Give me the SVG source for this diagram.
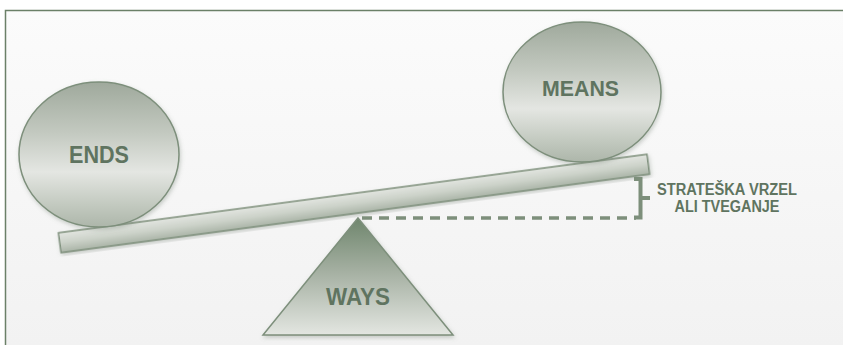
<svg xmlns="http://www.w3.org/2000/svg" width="843" height="345" viewBox="0 0 843 345">
  <defs>
    <linearGradient id="bg" x1="0" y1="0" x2="0" y2="1">
      <stop offset="0" stop-color="#fbfbfb"/>
      <stop offset="1" stop-color="#f2f2f2"/>
    </linearGradient>
    <linearGradient id="ball" x1="0" y1="0" x2="0" y2="1">
      <stop offset="0" stop-color="#9fa99c"/>
      <stop offset="0.35" stop-color="#c3c9c0"/>
      <stop offset="0.62" stop-color="#e4e6e2"/>
      <stop offset="0.85" stop-color="#c2c9bf"/>
      <stop offset="1" stop-color="#adb6aa"/>
    </linearGradient>
    <linearGradient id="tri" x1="0" y1="0" x2="0" y2="1">
      <stop offset="0" stop-color="#6f866d"/>
      <stop offset="0.45" stop-color="#a4afa1"/>
      <stop offset="1" stop-color="#e3e6e1"/>
    </linearGradient>
    <linearGradient id="beam" x1="0" y1="0" x2="0" y2="1">
      <stop offset="0" stop-color="#e2e5e0"/>
      <stop offset="0.5" stop-color="#ccd2c9"/>
      <stop offset="1" stop-color="#aab4a7"/>
    </linearGradient>
    <filter id="sh" x="-20%" y="-20%" width="140%" height="140%">
      <feDropShadow dx="1" dy="2" stdDeviation="2" flood-color="#6b7a69" flood-opacity="0.35"/>
    </filter>
    <style>
      .shape { stroke: #7d8f7b; stroke-width: 1.5; filter: url(#sh); }
      .lbl { font-family: "Liberation Sans", Arial, sans-serif; font-weight: bold; fill: #5f7460; text-anchor: middle; }
      .gap { stroke: #7d8f7b; fill: none; }
    </style>
  </defs>

  <rect x="0" y="0" width="843" height="345" fill="#ffffff"/>
  <rect x="5" y="10" width="838" height="335" fill="url(#bg)"/>
  <path d="M5.5 345 V10.5 H843" fill="none" stroke="#6b8068" stroke-width="1.5"/>

  <g id="triangle-ways">
    <polygon class="shape" points="358,218 453,335 263,335" fill="url(#tri)"/>
    <text class="lbl" x="358" y="304.5" font-size="23.5" textLength="64" lengthAdjust="spacingAndGlyphs">WAYS</text>
  </g>

  <g id="beam">
    <rect class="shape" x="-296.8" y="-10" width="593.6" height="20" fill="url(#beam)" transform="translate(354,203.5) rotate(-7.6)"/>
  </g>

  <g id="circle-ends">
    <ellipse class="shape" cx="99" cy="154.5" rx="80" ry="72.5" fill="url(#ball)"/>
    <text class="lbl" x="99" y="163" font-size="23" textLength="60" lengthAdjust="spacingAndGlyphs">ENDS</text>
  </g>

  <g id="circle-means">
    <ellipse class="shape" cx="582" cy="92" rx="79" ry="70" fill="url(#ball)"/>
    <text class="lbl" x="580.5" y="95.5" font-size="22" textLength="77" lengthAdjust="spacingAndGlyphs">MEANS</text>
  </g>

  <g id="connectors">
    <line class="gap" x1="362" y1="218" x2="636" y2="218" stroke-width="3.5" stroke-dasharray="10,7"/>
    <path class="gap" d="M634 179 H640.5 V217.5 H634 M640.5 198 H650" stroke-width="4"/>
  </g>

  <g id="label-gap">
    <text class="lbl" x="727" y="195" font-size="16" textLength="140" lengthAdjust="spacingAndGlyphs">STRATEŠKA VRZEL</text>
    <text class="lbl" x="727" y="212" font-size="16" textLength="105" lengthAdjust="spacingAndGlyphs">ALI TVEGANJE</text>
  </g>
</svg>
